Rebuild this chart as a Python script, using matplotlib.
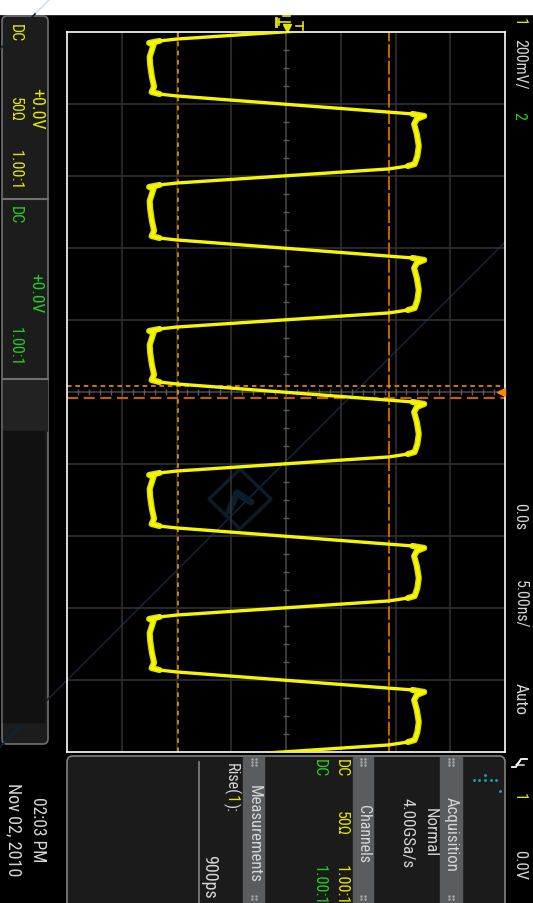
import matplotlib
matplotlib.use("Agg")
import matplotlib.pyplot as plt
from matplotlib.patches import Rectangle, FancyBboxPatch, Polygon
import numpy as np

FONT = ['Roboto Condensed', 'Liberation Sans Narrow', 'DejaVu Sans']
plt.rcParams['font.family'] = FONT

# ---- scope data -------------------------------------------------------
# one period of the ch1 trace, relative to its rising edge (ns, mV)
cycle_ns = [-0.83, -0.69, -0.56, 0.56, 0.69, 0.83, 1.04, 1.39, 2.08, 2.92, 3.61,
            4.17, 4.31, 4.51, 5.49, 5.62, 5.76, 5.90, 6.25, 6.74, 7.30, 8.10, 8.80]
cycle_mv = [-491, -462, -400, 375, 462, 505, 478, 468, 478, 485, 480,
            470, 445, 375, -400, -462, -500, -484, -490, -498, -496, -490, -482]
# rising edges of ch1 (ns)
rise_ns = [-30, -20, -10, 0, 10, 20]

# rise-time cursors (10% / 90% levels and the two crossing times)
cursor_mv = [-393, 375]
cursor_ns = [-0.45, 0.45]

# screen scales
volt_lines = [-600, -400, -200, 0, 200, 400, 600]
time_lines = [-20, -15, -10, -5, 0, 5, 10, 15, 20]

YEL = '#e6e600'
GRN = '#22d022'
TXT = '#d6d6d6'

fig = plt.figure(figsize=(5.33, 9.04), dpi=100)
fig.patch.set_facecolor('black')
renderer = fig.canvas.get_renderer()

# background / panels in pixel coords
bg = fig.add_axes([0, 0, 1, 1])
bg.set_xlim(0, 533)
bg.set_ylim(904, 0)
bg.axis('off')
bg.add_patch(Rectangle((0, 0), 533, 904, color='black', zorder=0))
bg.add_patch(Rectangle((0, 0), 533, 15, color='white', zorder=1))

# left channel panel
bg.add_patch(FancyBboxPatch((2, 17), 46, 728, boxstyle='round,pad=0,rounding_size=5',
                            fc='#1c1c1c', ec='#707070', lw=1.2, zorder=1))
bg.add_patch(Rectangle((3, 381), 44, 51, color='#222222', zorder=2))
bg.add_patch(Rectangle((3, 432), 41, 291, color='#111111', zorder=2))
for yy in [200, 380]:
    bg.plot([2.5, 47.5], [yy, yy], color='#707070', lw=1.5, zorder=3)

# bottom info panel
bg.add_patch(FancyBboxPatch((67, 757), 438, 160, boxstyle='round,pad=0,rounding_size=6',
                            fc='#1b1b1b', ec='#808080', lw=1.2, zorder=1))
for x0, x1 in [(243, 264), (353, 373), (440, 462)]:
    bg.add_patch(Rectangle((x0, 758), x1 - x0, 150, color='#5a5d60', zorder=2))
    xc = (x0 + x1) / 2
    for yy in [760, 763, 766, 897, 900]:
        bg.scatter([xc - 2, xc + 2], [yy, yy], s=0.6, color='#a8a8a8', zorder=3)
bg.plot([199, 199], [763, 904], color='#7a7a7a', lw=1.3, zorder=3)
bg.scatter([474, 479, 485, 485, 491, 496, 500], [781, 781, 781, 776, 781, 781, 792],
           s=1.2, color='#1a9fb0', zorder=3)

# watermark
bg.plot([0, 505], [748, 243], color='#0e2435', lw=1.2, zorder=1)
bg.plot([50, 35], [0, 15], color='#cfe0ee', lw=1.2, zorder=2)
bg.plot([35, 0], [15, 50], color='#0e2435', lw=1.2, zorder=4)
bg.add_patch(Polygon([[240, 470], [271, 500], [240, 530], [209, 500]], closed=True,
                     fill=False, ec='#0b1c2a', lw=2.5, joinstyle='round', zorder=1))
bg.plot([229, 237], [512, 494], color='#0b1c2a', lw=5, solid_capstyle='round', zorder=1)
bg.plot([237, 251], [494, 503], color='#0b1c2a', lw=5, solid_capstyle='round', zorder=1)


def fit_size(s, length, size_max, size_min=11.5):
    t = bg.text(0, 0, s, fontsize=size_max, rotation=-90)
    h = t.get_window_extent(renderer).height
    t.remove()
    return max(size_min, min(size_max, size_max * length / h))


def rtext(x, y0, y1, s, color=TXT, size_max=13, size_min=11.5):
    size = fit_size(s, y1 - y0, size_max, size_min)
    bg.text(x, (y0 + y1) / 2, s, color=color, fontsize=size, rotation=-90,
            ha='center', va='center', zorder=5)


# left panel texts
rtext(15, 25, 42, 'DC', YEL)
rtext(36, 87, 130, '+0.0V', YEL)
rtext(15, 97, 122, '50Ω', YEL)
rtext(15, 150, 190, '1.00:1', YEL)
rtext(15, 207, 223, 'DC', GRN)
rtext(36, 273, 313, '+0.0V', GRN)
rtext(15, 328, 366, '1.00:1', GRN)
rtext(38, 797, 863, '02:03 PM', TXT, 14)
rtext(14, 783, 877, 'Nov 02, 2010', TXT, 14)

# right strip
rtext(519, 18, 26, '1', YEL, 11.5)
rtext(520, 45, 84, '200mV/', TXT)
rtext(519, 112, 120, '2', GRN, 11.5)
rtext(520, 503, 530, '0.0s', TXT)
rtext(520, 583, 625, '5.00ns/', TXT)
rtext(520, 683, 715, 'Auto', TXT)
bg.plot([527, 521, 516, 512], [760, 760, 768, 768], color='white', lw=1.3, zorder=5)
bg.plot([520, 516, 524], [762, 766, 766], color='white', lw=1.0, zorder=5)
rtext(519, 793, 801, '1', YEL, 11.5)
rtext(520, 850, 880, '0.0V', TXT)

# bottom panel texts
rtext(254, 785, 883, 'Measurements', TXT)
rise_size = fit_size('Rise(1):', 49, 13)
y = 763
for s, c in [('Rise(', TXT), ('1', YEL), ('):', TXT)]:
    t = bg.text(231, y, s, color=c, fontsize=rise_size, rotation=-90,
                ha='center', va='top', zorder=5)
    y += t.get_window_extent(renderer).height
rtext(209, 855, 899, '900ps', TXT, 14)
rtext(363, 805, 863, 'Channels', TXT)
rtext(341, 762, 775, 'DC', YEL)
rtext(341, 815, 833, '50Ω', YEL)
rtext(341, 865, 905, '1.00:1', YEL)
rtext(319, 762, 775, 'DC', GRN)
rtext(319, 865, 905, '1.00:1', GRN)
rtext(451, 797, 872, 'Acquisition', TXT)
rtext(430, 808, 857, 'Normal', TXT)
rtext(407, 798, 868, '4.00GSa/s', TXT)

# ground / trigger markers above the graticule
bg.plot([287], [29], marker='v', color=YEL, ms=6, zorder=5)
bg.plot([276, 276], [19, 27], color=YEL, lw=2, zorder=5)
bg.plot([279, 279], [20, 26], color=YEL, lw=1.2, zorder=5)
bg.plot([279, 290], [23, 23], color=YEL, lw=1.2, zorder=5)
bg.plot([283, 290], [17, 17], color=YEL, lw=1.2, zorder=5)
bg.plot([296, 303], [27, 27], color=YEL, lw=1.2, zorder=5)
bg.plot([303, 303], [23, 31], color=YEL, lw=1.2, zorder=5)

# ---- graticule ---------------------------------------------------------
ax = fig.add_axes([67 / 533, 151 / 904, 438 / 533, 720 / 904])
ax.set_facecolor('none')
ax.set_xlim(-800, 800)
ax.set_ylim(25, -25)
ax.set_xticks([])
ax.set_yticks([])
for sp in ax.spines.values():
    sp.set_color('white')
    sp.set_linewidth(1.2)

for v in volt_lines:
    ax.axvline(v, color='#4a4a4a' if v == 0 else '#343434', lw=1.1, zorder=1)
for t in time_lines:
    ax.axhline(t, color='#4a4a4a' if t == 0 else '#343434', lw=1.1, zorder=1)
minor_v = np.arange(-760, 761, 40)
minor_t = np.arange(-23.75, 24, 1.25)
ax.plot(minor_v, np.zeros_like(minor_v), ls='none', marker='|', ms=5, mew=1,
        color='#5c5c5c', zorder=1)
ax.plot(np.zeros_like(minor_t), minor_t, ls='none', marker='_', ms=5, mew=1,
        color='#5c5c5c', zorder=1)

# cursors
ax.axvline(cursor_mv[0], color='#ff9a10', lw=1.1, dashes=(3, 3), zorder=2)
ax.axvline(cursor_mv[1], color='#c86400', lw=1.4, dashes=(7, 1.5), zorder=2)
ax.axhline(cursor_ns[0], color='#ff9a10', lw=1.1, dashes=(3, 2.5), zorder=2)
ax.axhline(cursor_ns[1], color='#c06000', lw=1.6, dashes=(5, 2.5), zorder=2)
ax.plot([785], [0], marker='<', color='#ff8c00', ms=6, clip_on=False, zorder=6)

# ---- ch1 trace ---------------------------------------------------------
trace_t = []
trace_v = []
for r in rise_ns:
    trace_t += [r + dt for dt in cycle_ns]
    trace_v += cycle_mv
trace_t = np.array(trace_t)
trace_v = np.array(trace_v, dtype=float)
flat_v = np.where(np.abs(trace_v) < 440, np.nan, trace_v)

ax.plot(flat_v, trace_t, color='#dede00', lw=4.4, solid_joinstyle='round',
        solid_capstyle='round', zorder=3)
ax.plot(trace_v, trace_t, color='#f6f600', lw=2.4, solid_joinstyle='round', zorder=4)

fig.savefig('out.png', dpi=100, facecolor='black')
